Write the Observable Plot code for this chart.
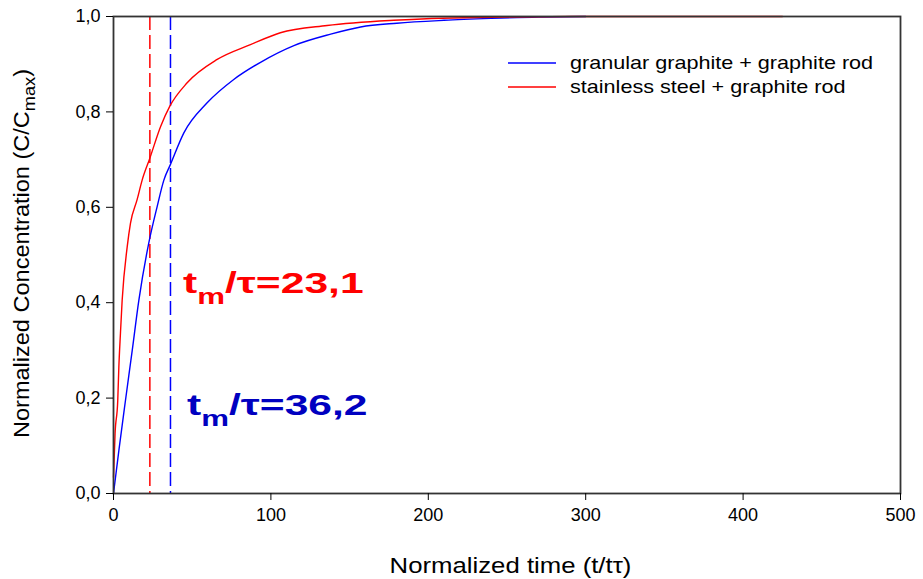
<!DOCTYPE html>
<html><head><meta charset="utf-8">
<script src="https://cdn.jsdelivr.net/npm/d3@7"></script>
<script src="https://cdn.jsdelivr.net/npm/@observablehq/plot@0.6"></script>
<style>body{margin:0;background:#fff;font-family:"Liberation Sans",Arial,sans-serif}</style>
</head><body><div id="chart"></div>
<script>
// Data
const blueT = [0, 3.4, 7.6, 11.9, 16.1, 22.4, 27.7, 32, 36.2, 44.7, 59.5, 76.4, 93.4, 114.6, 138, 157, 180, 210, 240, 270, 300];
const blueC = [0, 0.09, 0.195, 0.3, 0.405, 0.525, 0.601, 0.657, 0.69, 0.756, 0.819, 0.868, 0.904, 0.939, 0.963, 0.978, 0.986, 0.992, 0.996, 0.999, 1.0];
const redT = [0, 1, 2.7, 3.4, 4.4, 5.5, 8.7, 10.8, 15, 18.2, 23.1, 30, 35.8, 46.8, 65.9, 87, 106, 135.7, 178, 230, 300, 425];
const redC = [0.034, 0.126, 0.195, 0.265, 0.335, 0.405, 0.517, 0.567, 0.616, 0.657, 0.703, 0.77, 0.812, 0.861, 0.910, 0.941, 0.966, 0.981, 0.992, 0.998, 1.0, 1.0];
const xTicks = [0, 100, 200, 300, 400, 500];
const yTicks = [0, 0.2, 0.4, 0.6, 0.8, 1.0];
const tmValues = [23.1, 36.2];
const seriesNames = ["granular graphite + graphite rod", "stainless steel + graphite rod"];
const seriesColors = ["#0000ff", "#ff0000"];
const annoT = [44.5, 47];
const annoC = [0.42, 0.164];
const annoValues = ["23,1", "36,2"];
const annoColors = ["#ff0000", "#0000c0"];
const xLabel = "Normalized time (t/t\u03c4)";

const blue = blueT.map((t, i) => ({t, c: blueC[i]}));
const red = redT.map((t, i) => ({t, c: redC[i]}));
const fmt = d => d.toFixed(1).replace(".", ",");

const plot = Plot.plot({
  width: 923, height: 579,
  marginLeft: 113, marginRight: 23, marginTop: 16, marginBottom: 86,
  style: {fontFamily: "Liberation Sans, Arial, sans-serif", fontSize: "18px", color: "#000", background: "#fff"},
  x: {domain: [0, 500]},
  y: {domain: [0, 1]},
  marks: [
    Plot.ruleX([tmValues[0]], {stroke: "#ff0000", strokeWidth: 1.5, strokeDasharray: "14,5"}),
    Plot.ruleX([tmValues[1]], {stroke: "#0000ff", strokeWidth: 1.5, strokeDasharray: "14,5"}),
    Plot.line(blue, {x: "t", y: "c", stroke: seriesColors[0], strokeWidth: 1.4, curve: "monotone-x"}),
    Plot.line(red, {x: "t", y: "c", stroke: seriesColors[1], strokeWidth: 1.4, curve: "monotone-x"}),
    Plot.frame({stroke: "#333", strokeWidth: 1.8}),
    Plot.axisX({ticks: xTicks, tickSize: 7, tickPadding: 8, fontSize: 18, label: null, tickFormat: d => String(d)}),
    Plot.axisY({ticks: yTicks, tickSize: 7, tickPadding: 6, fontSize: 18, label: null, tickFormat: fmt})
  ]
});
document.getElementById("chart").appendChild(plot);

const svg = d3.select(plot);
const sx = plot.scale("x"), sy = plot.scale("y");
const ff = "Liberation Sans, Arial, sans-serif";
const xMid = (sx.range[0] + sx.range[1]) / 2;
const yMid = (sy.range[0] + sy.range[1]) / 2;

// x label
svg.append("g").attr("transform", `translate(${xMid + 4},573) scale(1.17,1)`)
  .append("text").attr("text-anchor", "middle")
  .attr("font-family", ff).attr("font-size", 22).attr("fill", "#000").text(xLabel);

// y label with subscript
const yl = svg.append("text").attr("transform", `translate(29,${yMid - 1}) rotate(-90) scale(1.07,1)`)
  .attr("text-anchor", "middle").attr("font-family", ff).attr("font-size", 22).attr("fill", "#000");
yl.append("tspan").text("Normalized Concentration (C/C");
yl.append("tspan").attr("dy", 6).attr("font-size", 17).text("max");
yl.append("tspan").attr("dy", -6).text(")");

// annotations
annoValues.forEach((v, i) => {
  const g = svg.append("g").attr("transform", `translate(${sx.apply(annoT[i])},${sy.apply(annoC[i])}) scale(1.42,1)`);
  const tx = g.append("text").attr("text-anchor", "start").attr("font-family", ff).attr("font-weight", "bold")
    .attr("font-size", 30).attr("fill", annoColors[i]);
  tx.append("tspan").text("t");
  tx.append("tspan").attr("dy", 11).attr("font-size", 22).text("m");
  tx.append("tspan").attr("dy", -11).text("/\u03c4=" + v);
});

// legend
seriesNames.forEach((name, i) => {
  const y = 63 + i * 24;
  svg.append("line").attr("x1", 508).attr("x2", 556).attr("y1", y).attr("y2", y)
    .attr("stroke", seriesColors[i]).attr("stroke-width", 1.4);
  svg.append("g").attr("transform", `translate(570,${y + 6}) scale(1.2,1)`)
    .append("text").attr("text-anchor", "start").attr("font-family", ff).attr("font-size", 18)
    .attr("fill", "#000").text(name);
});
</script>
</body></html>
